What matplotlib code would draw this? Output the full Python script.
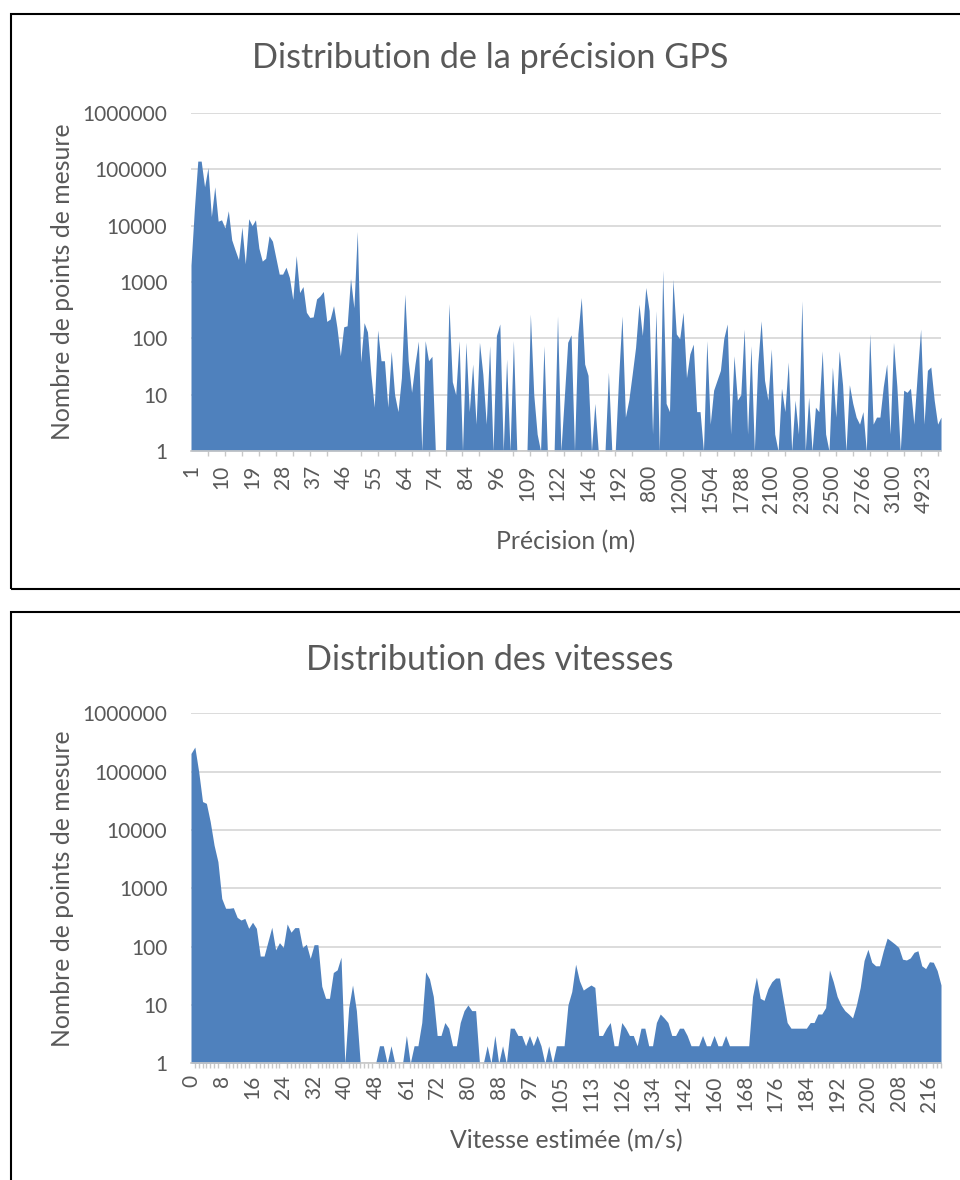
import numpy as np
import matplotlib.pyplot as plt
from matplotlib.patches import Rectangle
from matplotlib.ticker import FixedLocator, NullLocator

plt.rcParams['font.family'] = ['Lato', 'DejaVu Sans']

# number of GPS points per precision value (one value per category)
prec_counts = [
    2000, 20000, 140000, 140000, 49000, 107000, 14500, 49000, 12000, 12700,
    9100, 18400, 5600, 3700, 2500, 9500, 2100, 13300, 10000, 12700,
    4000, 2350, 2640, 6600, 5300, 2700, 1380, 1380, 1830, 1200,
    490, 2950, 650, 830, 290, 235, 240, 500, 565, 680,
    200, 220, 380, 157, 49, 160, 167, 1150, 350, 7900,
    38, 190, 130, 23, 6, 140, 40, 40, 6, 59,
    10, 5, 20, 610, 40, 11, 35, 89, 1, 91,
    40, 48, 1, 1, 1, 1, 415, 17, 10, 91,
    1, 85, 5, 35, 3, 85, 23, 3, 74, 1,
    112, 180, 1, 43, 1, 91, 1, 1, 1, 1,
    270, 10, 2, 1, 74, 1, 1, 1, 250, 1,
    9, 85, 115, 1, 120, 530, 35, 22, 1, 7,
    1, 1, 1, 25, 1, 1, 20, 250, 4, 8,
    23, 69, 405, 112, 800, 310, 2, 310, 1, 1630,
    7, 5, 1120, 120, 98, 290, 20, 53, 79, 5,
    5, 1, 91, 3, 12, 18, 27, 100, 180, 2,
    49, 8, 10, 146, 2, 74, 1, 35, 205, 18,
    8, 65, 2, 1, 13, 5, 38, 1, 8, 2,
    465, 1, 9, 1, 6, 5, 60, 2, 1, 31,
    4, 60, 15, 1, 15, 7, 4, 3, 5, 1,
    120, 3, 4, 4, 14, 35, 2, 85, 14, 1,
    12, 11, 13, 3, 23, 146, 3, 27, 31, 8,
    3, 4,
]
prec_ticklabels = ['1', '10', '19', '28', '37', '46', '55', '64', '74', '84',
                   '96', '109', '122', '146', '192', '800', '1200', '1504',
                   '1788', '2100', '2300', '2500', '2766', '3100', '4923']

# number of points per estimated speed value
vit_counts = [
    205000, 264000, 100000, 30700, 28600, 13900, 5500, 2860, 670, 455,
    455, 465, 318, 286, 305, 206, 262, 206, 69, 69,
    122, 215, 88, 117, 97, 245, 177, 212, 212, 97,
    110, 63, 108, 108, 21, 13, 13, 36, 40, 66,
    1, 9, 22, 8, 1, 1, 1, 1, 1, 2,
    2, 1, 2, 1, 1, 1, 3, 1, 2, 2,
    5, 37, 28, 14, 3, 3, 5, 4, 2, 2,
    5, 8, 10, 8, 8, 1, 1, 2, 1, 3,
    1, 2, 1, 4, 4, 3, 3, 2, 3, 2,
    3, 2, 1, 2, 1, 2, 2, 2, 10, 17,
    50, 26, 18, 20, 22, 20, 3, 3, 4, 5,
    2, 2, 5, 4, 3, 3, 2, 4, 4, 2,
    2, 5, 7, 6, 5, 3, 3, 4, 4, 3,
    2, 2, 2, 3, 2, 2, 3, 2, 2, 3,
    2, 2, 2, 2, 2, 2, 14, 30, 13, 12,
    19, 25, 29, 29, 12, 5, 4, 4, 4, 4,
    4, 5, 5, 7, 7, 9, 40, 25, 14, 10,
    8, 7, 6, 10, 20, 58, 90, 54, 47, 47,
    85, 140, 125, 111, 97, 61, 59, 64, 80, 85,
    47, 42, 55, 54, 39, 22,
]
vit_ticklabels = ['0', '8', '16', '24', '32', '40', '48', '61', '72', '80',
                  '88', '97', '105', '113', '126', '134', '142', '160', '168',
                  '176', '184', '192', '200', '208', '216']

fill_color = '#4F81BD'
text_color = '#595959'
grid_color = '#D9D9D9'
axis_color = '#C8C8C8'

W, H = 960, 1180
fig = plt.figure(figsize=(W / 100, H / 100), dpi=100)


def px_box(x0, y0, x1, y1):
    return [x0 / W, 1 - y1 / H, (x1 - x0) / W, (y1 - y0) / H]


def draw_panel(counts, ticklabels, label_step, mark_step, box,
               title, xlabel, title_y, xlabel_y, tick_pad):
    ax = fig.add_axes(px_box(*box))
    x = np.arange(len(counts))
    ax.fill_between(x, 1, counts, color=fill_color, lw=0)
    ax.set_yscale('log')
    ax.set_ylim(1, 1e6)
    ax.set_xlim(0, len(counts) - 1)

    yt = [10 ** k for k in range(7)]
    ax.set_yticks(yt)
    ax.set_yticklabels([str(v) for v in yt])
    ax.yaxis.set_minor_locator(NullLocator())
    ax.tick_params(axis='y', length=0, pad=17, labelsize=15,
                   labelcolor=text_color)

    ax.set_xticks(np.arange(0, len(counts), label_step)[:len(ticklabels)])
    ax.set_xticklabels(ticklabels, rotation=90)
    ax.xaxis.set_minor_locator(FixedLocator(np.arange(0, len(counts), mark_step)))
    ax.tick_params(axis='x', which='major', length=0, pad=tick_pad,
                   labelsize=15, labelcolor=text_color)
    ax.tick_params(axis='x', which='minor', length=3.6, width=1,
                   color=axis_color)

    ax.grid(axis='y', color=grid_color, lw=1.3)
    ax.set_axisbelow(True)
    for s in ['top', 'right', 'left']:
        ax.spines[s].set_visible(False)
    ax.spines['bottom'].set_color(axis_color)
    ax.spines['bottom'].set_linewidth(1.2)

    cy = 1 - (box[1] + box[3]) / 2 / H
    fig.text(490 / W, 1 - title_y / H, title, ha='center', va='center',
             fontsize=24.7, color=text_color)
    fig.text(566 / W, 1 - xlabel_y / H, xlabel, ha='center', va='center',
             fontsize=17.8, color=text_color)
    fig.text(62 / W, cy, 'Nombre de points de mesure', ha='center',
             va='center', rotation=90, fontsize=17.8, color=text_color)
    return ax


draw_panel(prec_counts, prec_ticklabels, 9, 5, (191, 113, 941, 451),
           'Distribution de la précision GPS', 'Précision (m)', 58, 542, 10)
draw_panel(vit_counts, vit_ticklabels, 8, 1, (191, 713.3, 941, 1063.3),
           'Distribution des vitesses', 'Vitesse estimée (m/s)', 660, 1141, 8.6)

# chart frames
fig.add_artist(Rectangle((11 / W, 1 - 589 / H), 1.1, 575 / H,
                         transform=fig.transFigure, fill=False,
                         ec='black', lw=1.5))
fig.add_artist(Rectangle((11 / W, -0.1), 1.1, 0.1 + 1 - 612 / H,
                         transform=fig.transFigure, fill=False,
                         ec='black', lw=1.5))

plt.savefig('out.png', dpi=100)
plt.close()
